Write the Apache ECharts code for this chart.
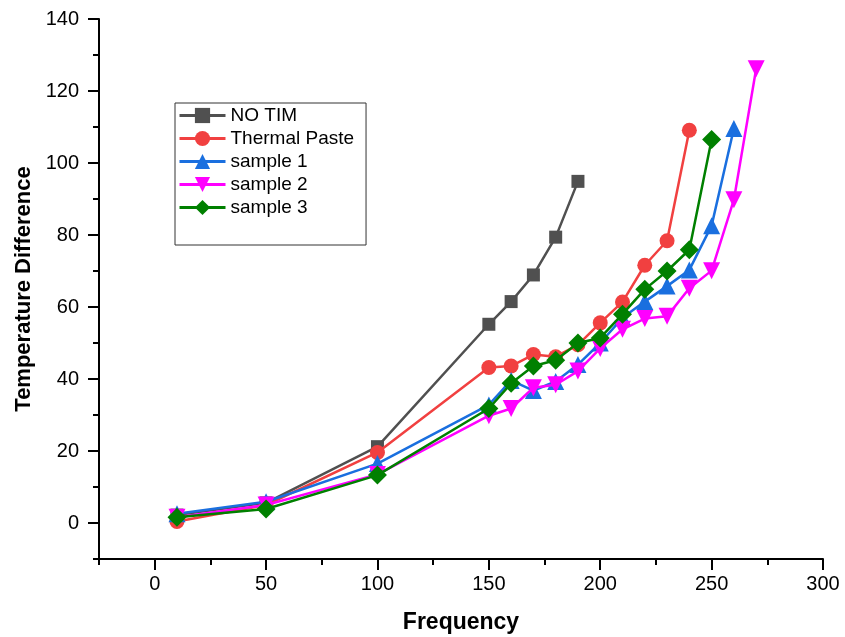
<!DOCTYPE html>
<html><head><meta charset="utf-8">
<script src="https://cdn.jsdelivr.net/npm/echarts@6/dist/echarts.min.js"></script>
<style>html,body{margin:0;padding:0;background:#fff}#c{width:845px;height:637px}</style>
</head><body><div id="c"></div>
<script>
const seriesNames = ["NO TIM", "Thermal Paste", "sample 1", "sample 2", "sample 3"];
const xNoTim = [10, 50, 100, 150, 160, 170, 180, 190];
const yNoTim = [2.2, 5.6, 21.2, 55.2, 61.5, 68.9, 79.4, 94.9];
const xPaste = [10, 50, 100, 150, 160, 170, 180, 190, 200, 210, 220, 230, 240];
const yPaste = [0.4, 5.0, 19.6, 43.2, 43.6, 46.8, 46.2, 49.5, 55.6, 61.4, 71.6, 78.4, 109.1];
const xS1 = [10, 50, 100, 150, 160, 170, 180, 190, 200, 210, 220, 230, 240, 250, 260];
const yS1 = [2.6, 5.9, 16.5, 32.8, 39.6, 36.8, 39.3, 44.0, 50.0, 57.0, 61.5, 65.8, 70.3, 82.6, 109.6];
const xS2 = [10, 50, 100, 150, 160, 170, 180, 190, 200, 210, 220, 230, 240, 250, 260, 270];
const yS2 = [1.6, 5.0, 13.5, 29.8, 31.8, 37.6, 38.4, 42.2, 48.5, 53.8, 56.8, 57.4, 65.2, 70.1, 89.8, 126.2];
const xS3 = [10, 50, 100, 150, 160, 170, 180, 190, 200, 210, 220, 230, 240, 250];
const yS3 = [1.6, 3.9, 13.3, 31.8, 38.8, 43.6, 45.2, 50.0, 51.4, 58.0, 64.9, 70.0, 75.9, 106.5];
const xTickLabels = [0, 50, 100, 150, 200, 250, 300];
const xMinorTicks = [-25, 25, 75, 125, 175, 225, 275];
const yTickLabels = [0, 20, 40, 60, 80, 100, 120, 140];
const yMinorTicks = [-10, 10, 30, 50, 70, 90, 110, 130];

const FONT = "Liberation Sans, Arial, sans-serif";
const colors = ["#505050", "#f14040", "#1a6fdf", "#ff00ff", "#008000"];
const symbols = ["rect", "circle", "triangle", "triangle", "diamond"];
const sizes = [13, 15, 17, 17, 19];
const rotates = [0, 0, 0, 180, 0];
const xs = [xNoTim, xPaste, xS1, xS2, xS3];
const ys = [yNoTim, yPaste, yS1, yS2, yS3];

const series = seriesNames.map((n, i) => ({
  name: n, type: 'line', xAxisIndex: 0, yAxisIndex: 0,
  data: xs[i].map((x, j) => [x, ys[i][j]]),
  symbol: symbols[i], symbolSize: sizes[i], symbolRotate: rotates[i],
  showAllSymbol: true,
  lineStyle: { color: colors[i], width: 2.5 },
  itemStyle: { color: colors[i] },
  z: 2 + i, animation: false
}));

const axisLineStyle = { color: '#000', width: 2 };
const chart = echarts.init(document.getElementById('c'));
chart.setOption({
  animation: false,
  backgroundColor: '#fff',
  grid: { left: 99, right: 22, top: 19, bottom: 78, containLabel: false, outerBoundsMode: 'none' },
  legend: {
    orient: 'vertical', left: 175, top: 103,
    itemWidth: 46, itemHeight: 19, itemGap: 4,
    padding: [3, 12, 28, 3],
    borderColor: '#333', borderWidth: 1,
    lineStyle: { width: 3 },
    textStyle: { fontFamily: FONT, fontSize: 19, color: '#000', lineHeight: 19 },
    data: seriesNames
  },
  xAxis: [{
    type: 'value', min: -25, max: 300,
    name: 'Frequency', nameLocation: 'middle', nameGap: 52,
    nameTextStyle: { fontFamily: FONT, fontSize: 23, fontWeight: 'bold', color: '#000' },
    axisLine: { show: true, onZero: false, lineStyle: axisLineStyle },
    axisTick: { show: true, length: 11, lineStyle: axisLineStyle, customValues: xTickLabels },
    axisLabel: { customValues: xTickLabels, margin: 15, fontFamily: FONT, fontSize: 20, color: '#000' },
    splitLine: { show: false }
  }, {
    type: 'value', min: -25, max: 300, position: 'bottom',
    axisLine: { show: false, onZero: false },
    axisTick: { show: true, length: 6, lineStyle: axisLineStyle, customValues: xMinorTicks },
    axisLabel: { show: false },
    splitLine: { show: false }
  }],
  yAxis: [{
    type: 'value', min: -10, max: 140,
    name: 'Temperature Difference', nameLocation: 'middle', nameGap: 63,
    nameTextStyle: { fontFamily: FONT, fontSize: 22, fontWeight: 'bold', color: '#000' },
    axisLine: { show: true, onZero: false, lineStyle: axisLineStyle },
    axisTick: { show: true, length: 11, lineStyle: axisLineStyle, customValues: yTickLabels },
    axisLabel: { customValues: yTickLabels, margin: 20, fontFamily: FONT, fontSize: 20, color: '#000' },
    splitLine: { show: false }
  }, {
    type: 'value', min: -10, max: 140, position: 'left',
    axisLine: { show: false, onZero: false },
    axisTick: { show: true, length: 6, lineStyle: axisLineStyle, customValues: yMinorTicks },
    axisLabel: { show: false },
    splitLine: { show: false }
  }],
  series: series
});
</script></body></html>
